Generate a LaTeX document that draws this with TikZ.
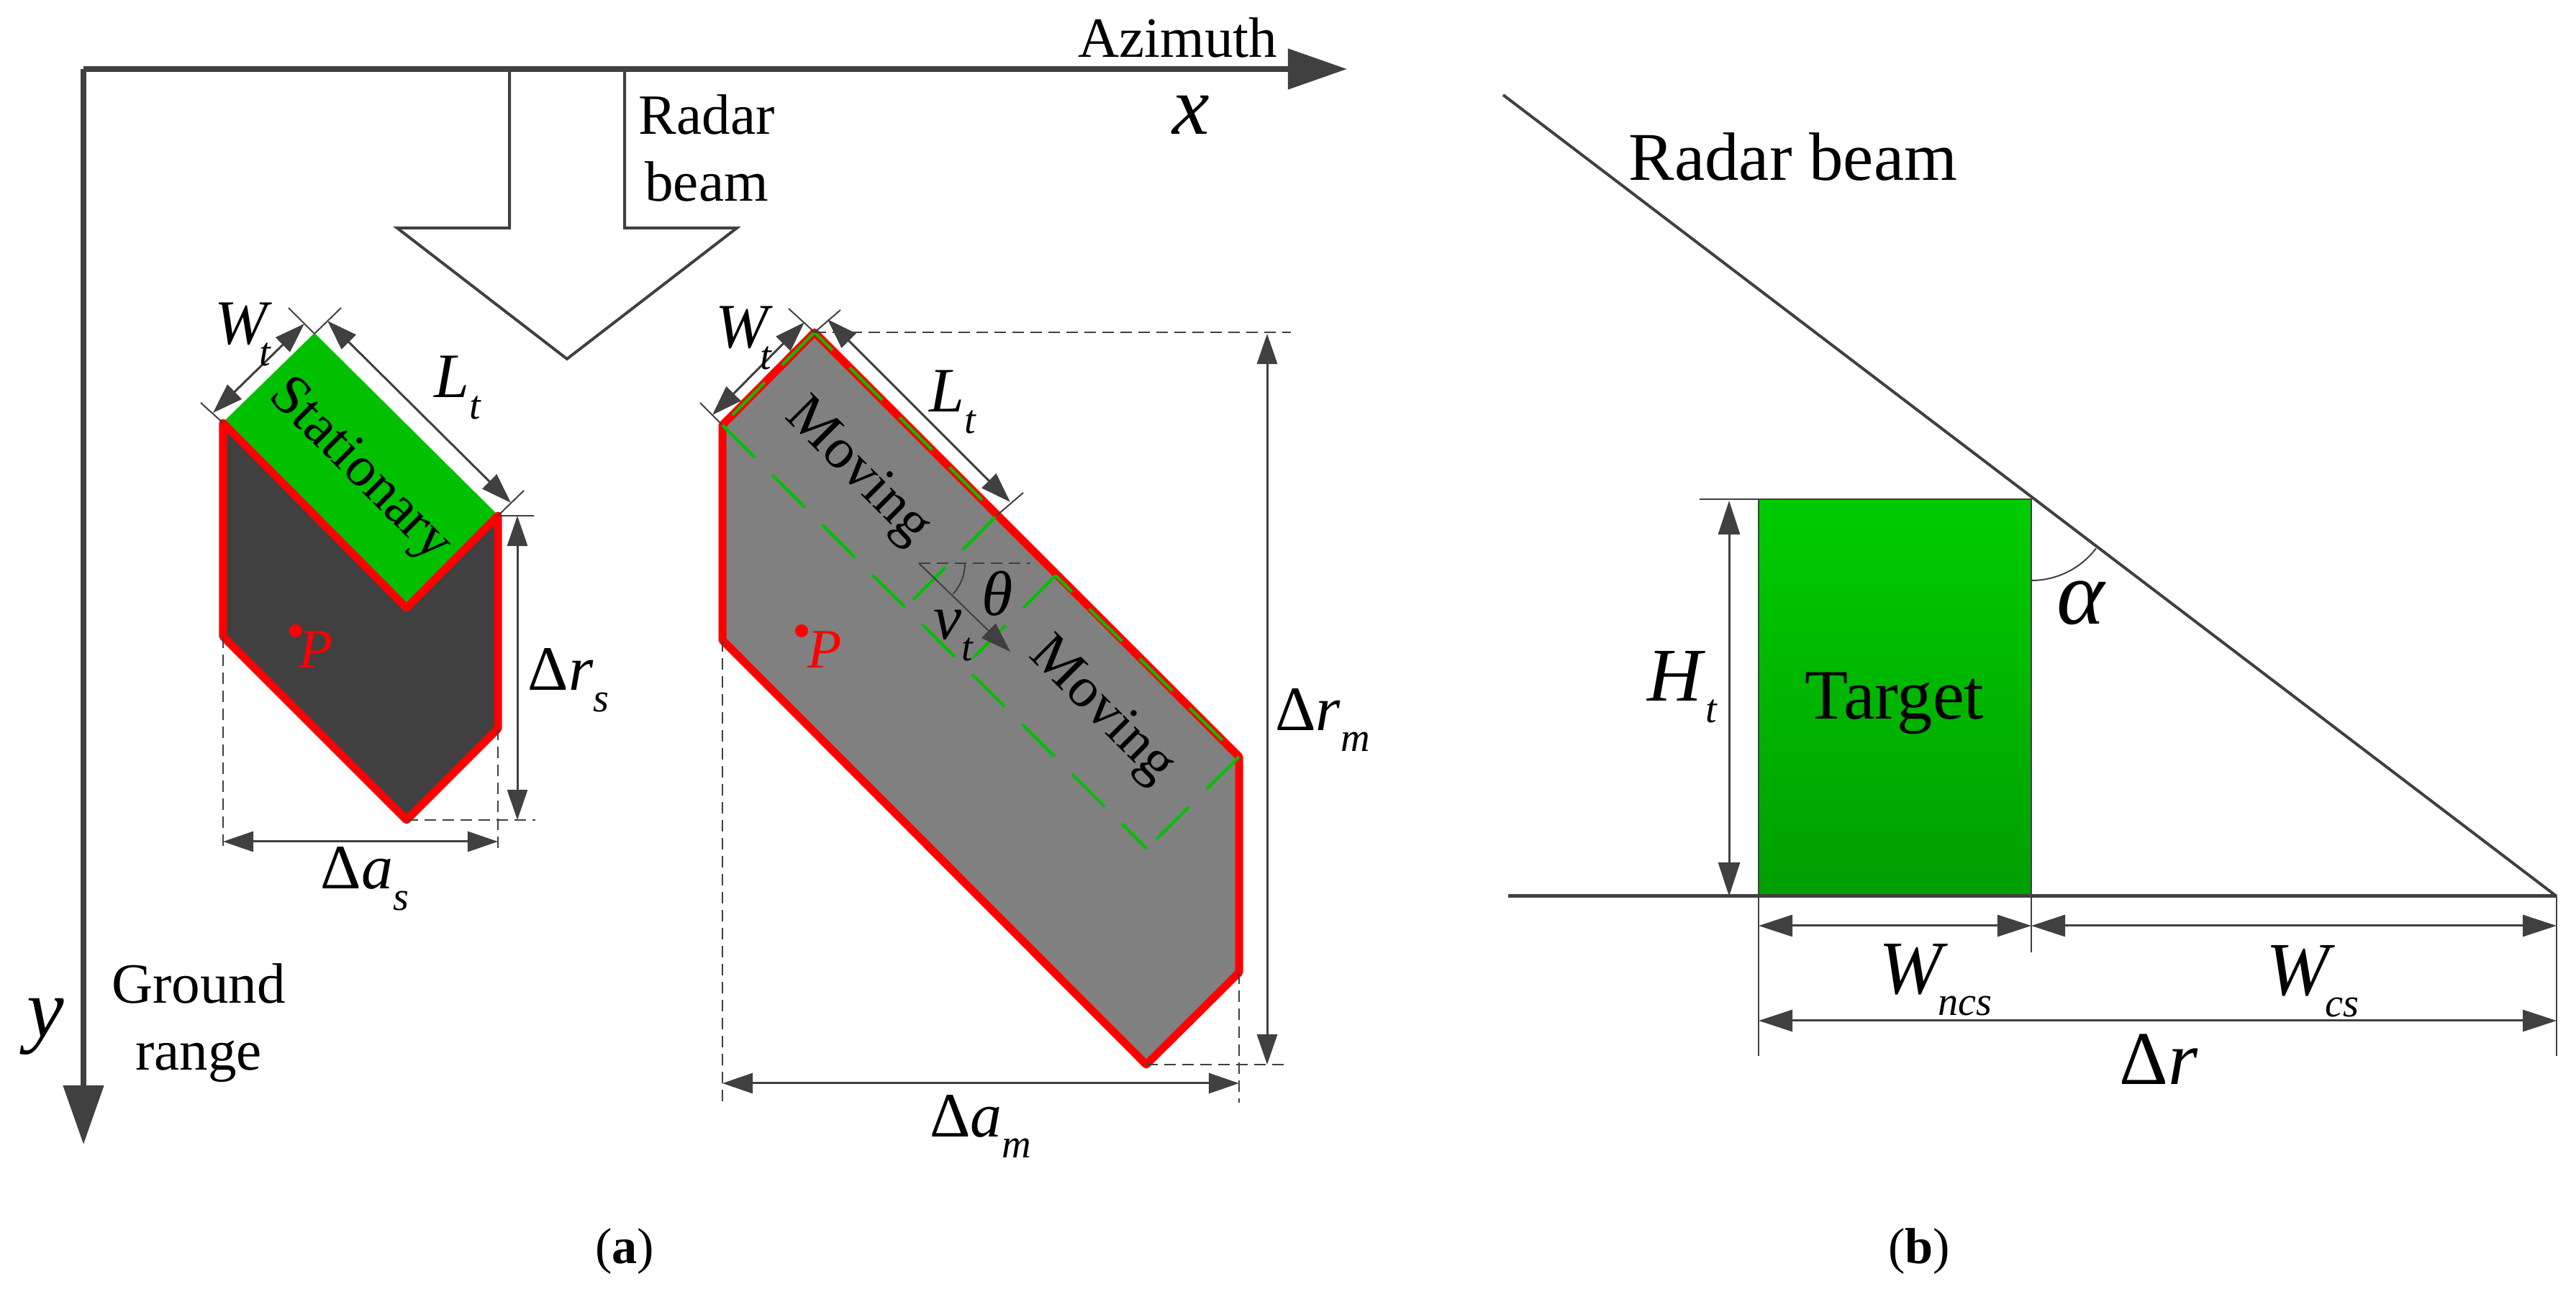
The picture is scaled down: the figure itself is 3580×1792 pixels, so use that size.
\documentclass[tikz,border=0pt]{standalone}
\usepackage{fontspec}
\setmainfont{Liberation Serif}
\usetikzlibrary{arrows.meta,calc}
\definecolor{inkgray}{HTML}{404040}
\definecolor{targetgreen}{HTML}{00C000}
\definecolor{movegray}{HTML}{808080}
\tikzset{>={Triangle[length=0.42cm,width=0.28cm]}}
\tikzset{
  axisline/.style = {inkgray,line width=0.08cm,-{Triangle[length=0.82cm,width=0.55cm]}},
  beamline/.style = {inkgray,line width=0.04cm,line join=miter},
  dimline/.style = {inkgray,line width=0.03cm,<->},
  bigdim/.style = {inkgray,line width=0.03cm,{Triangle[length=0.47cm,width=0.3cm]}-{Triangle[length=0.47cm,width=0.3cm]}},
  extline/.style = {inkgray,line width=0.02cm},
  extdash/.style = {inkgray,line width=0.02cm,dash pattern=on 0.16cm off 0.09cm},
  outline/.style = {red,line width=0.11cm,line join=round},
  movedash/.style = {targetgreen,line width=0.04cm,dash pattern=on 0.64cm off 0.34cm},
  txt/.style = {inner sep=0pt,font=\fontsize{22.5}{26.6}\selectfont},
  bigtxt/.style = {inner sep=0pt,font=\fontsize{27}{30}\selectfont},
  sym/.style = {inner sep=0pt,font=\fontsize{25}{30}\selectfont},
  bigsym/.style = {inner sep=0pt,font=\fontsize{30}{34}\selectfont},
  axsym/.style = {inner sep=0pt,font=\fontsize{33}{38}\selectfont\itshape}
}
\newcommand{\dimsym}[3][0pt]{\textit{#2}\kern#1\raisebox{-8.5pt}{\fontsize{16}{16}\selectfont\textit{#3}}}
\begin{document}
\begin{tikzpicture}[x=0.01cm,y=-0.01cm]
  \useasboundingbox (0,0) rectangle (3580,1792);
  \coordinate (o) at (116,96);
  \coordinate (xend) at (1872,96);
  \coordinate (yend) at (116,1591);
  \draw[axisline] (o) -- (xend);
  \draw[axisline] (o) -- (yend);
  \node[txt] (azimuth) at (1637,52) {Azimuth};
  \node[axsym] (xlabel) at (1655,160) {x};
  \node[axsym] (ylabel) at (63,1427) {y};
  \node[txt,align=center] (ground) at (276,1422) {Ground\\range};
  \node[txt,align=center] (radar) at (982,206) {Radar\\beam};
  \draw[beamline] (708,100) -- (708,317) -- (552,317) -- (788,499)
    -- (1024,317) -- (868,317) -- (868,100);

  % stationary target
  \coordinate (stop) at (437,464);
  \coordinate (sleft) at (310,588);
  \coordinate (sright) at (692,717);
  \coordinate (snotch) at (565,845);
  \coordinate (slow) at (310,885);
  \coordinate (sbot) at (565,1140);
  \coordinate (srlow) at (692,1013);
  \fill[inkgray] (sleft) -- (snotch) -- (sright) -- (srlow) -- (sbot) -- (slow) -- cycle;
  \draw[targetgreen,fill=targetgreen] (stop) -- (sright) -- (snotch) -- (sleft) -- cycle;
  \draw[outline] (sleft) -- (snotch) -- (sright) -- (srlow) -- (sbot) -- (slow) -- cycle;
  \node[txt,rotate=-45] (stationary) at (499,655) {Stationary};
  \fill[red] (411,877) circle (9);
  \node[txt,red,font=\fontsize{22}{26}\selectfont\itshape] (sp) at (439,903) {P};
  \draw[extline] (sleft) -- ($(sleft)+(-31,-28)$);
  \draw[extline] (stop) -- ($(stop)+(-36,-36)$);
  \draw[extline] (stop) -- ($(stop)+(37,-36)$);
  \draw[extline] (sright) -- ($(sright)+(36,-35)$);
  \draw[dimline] ($(sleft)+(-14,-14)$) -- ($(stop)+(-14,-14)$);
  \draw[dimline] ($(stop)+(18,-18)$) -- ($(sright)+(18,-18)$);
  \node[sym] (swt) at (338,465) {\dimsym[-5pt]{W}{t}};
  \node[sym] (slt) at (636,539) {\dimsym{L}{t}};
  \coordinate (srt) at (719,717);
  \coordinate (srb) at (719,1140);
  \draw[extline] (sright) -- (742,717);
  \draw[extdash] (sbot) -- (744,1140);
  \draw[dimline] (srt) -- (srb);
  \node[sym] (sdr) at (790,946) {Δ\dimsym{r}{s}};
  \draw[extdash] (slow) -- (310,1180);
  \draw[extdash] (srlow) -- (692,1180);
  \draw[dimline] (310,1170) -- (692,1170);
  \node[sym] (sda) at (507,1222) {Δ\dimsym{a}{s}};

  % moving target
  \coordinate (mtop) at (1132,462);
  \coordinate (mleft) at (1004,591);
  \coordinate (mlow) at (1004,890);
  \coordinate (mbot) at (1593,1480);
  \coordinate (mrlow) at (1722,1352);
  \coordinate (mright) at (1722,1052);
  \coordinate (cornera) at (1386,716);
  \coordinate (cornerb) at (1258,845);
  \coordinate (cornerc) at (1467,800);
  \coordinate (cornerd) at (1339,928);
  \coordinate (cornere) at (1594,1180);
  \draw[outline,fill=movegray] (mtop) -- (mright) -- (mrlow) -- (mbot) -- (mlow) -- (mleft) -- cycle;
  \draw[movedash] (mtop) -- (mleft);
  \draw[movedash,dash phase=0.29cm] (mtop) -- (cornera) -- (cornerb);
  \draw[movedash] (mleft) -- (cornere);
  \draw[movedash,dash phase=0.32cm] (cornerc) -- (mright);
  \draw[movedash] (mright) -- (cornere);
  \draw[movedash] (cornerc) -- (cornerd);
  \node[txt,rotate=-45] (moving) at (1191,657) {Moving};
  \node[txt,rotate=-45] (movingb) at (1530,989) {Moving};
  \fill[red] (1114,877) circle (9);
  \node[txt,red,font=\fontsize{22}{26}\selectfont\itshape] (mp) at (1146,903) {P};
  \coordinate (vt) at (1277,783);
  \draw[extdash] (vt) -- (1432,783);
  \draw[extline,->] (vt) -- (1404,906);
  \draw[extline] (1341,783) arc[start angle=0,end angle=42,radius=64];
  \node[sym,font=\fontsize{25}{30}\selectfont\itshape] (theta) at (1386,825) {θ};
  \node[sym] (vlabel) at (1325,884) {\dimsym{v}{t}};
  \draw[extline] (mleft) -- ($(mleft)+(-31,-31)$);
  \draw[extline] (mtop) -- ($(mtop)+(-36,-33)$);
  \draw[extline] (mtop) -- ($(mtop)+(36,-31)$);
  \draw[extline] (cornera) -- ($(cornera)+(36,-31)$);
  \draw[dimline] ($(mleft)+(-14,-14)$) -- ($(mtop)+(-14,-14)$);
  \draw[dimline] ($(mtop)+(18,-18)$) -- ($(cornera)+(18,-18)$);
  \node[sym] (mwt) at (1034,470) {\dimsym[-5pt]{W}{t}};
  \node[sym] (mlt) at (1324,559) {\dimsym{L}{t}};
  \draw[extdash] (mtop) -- (1794,462);
  \draw[extdash] (mbot) -- (1793,1480);
  \draw[dimline] (1761,464) -- (1761,1480);
  \node[sym] (mdr) at (1838,1001) {Δ\dimsym{r}{m}};
  \draw[extdash] (mlow) -- (1004,1533);
  \draw[extdash] (mrlow) -- (1722,1533);
  \draw[dimline] (1004,1506) -- (1722,1506);
  \node[sym] (mda) at (1363,1566) {Δ\dimsym{a}{m}};
  \node[txt,font=\fontsize{20}{24}\selectfont] (capa) at (868,1740) {(\textbf{a})};

  % side view
  \coordinate (ra) at (2444,694);
  \coordinate (rb) at (2823,694);
  \coordinate (rc) at (2823,1246);
  \coordinate (rd) at (2444,1246);
  \coordinate (apex) at (3553,1246);
  \draw[extline,top color=green!80!black,bottom color=green!62!black] (ra) rectangle (rc);
  \draw[inkgray,line width=0.05cm] (2096,1246) -- (apex);
  \draw[beamline] (2089,132) -- (apex);
  \draw[extline] (2823,807) arc[start angle=90,end angle=37.3,radius=113];
  \node[bigtxt] (radarb) at (2492,218) {Radar beam};
  \node[bigtxt,font=\fontsize{28}{30}\selectfont] (target) at (2633,978) {Target};
  \node[bigsym,font=\fontsize{36}{40}\selectfont\itshape] (alpha) at (2892,838) {α};
  \draw[extline] (2362,694) -- (ra);
  \draw[bigdim] (2403,696) -- (2403,1246);
  \node[bigsym] (ht) at (2338,955) {\dimsym{H}{t}};
  \draw[extline] (rd) -- (2444,1468);
  \draw[extline] (rc) -- (2823,1324);
  \draw[extline] (apex) -- (3553,1468);
  \draw[bigdim] (2444,1287) -- (2823,1287);
  \draw[bigdim] (2823,1287) -- (3553,1287);
  \draw[bigdim] (2444,1419) -- (3553,1419);
  \node[bigsym] (wncs) at (2690,1362) {\dimsym[-4pt]{W}{ncs}};
  \node[bigsym] (wcs) at (3214,1364) {\dimsym[-4pt]{W}{cs}};
  \node[bigsym] (dr) at (3000,1473) {Δ\textit{r}};
  \node[txt,font=\fontsize{20}{24}\selectfont] (capb) at (2667,1740) {(\textbf{b})};
\end{tikzpicture}
\end{document}
